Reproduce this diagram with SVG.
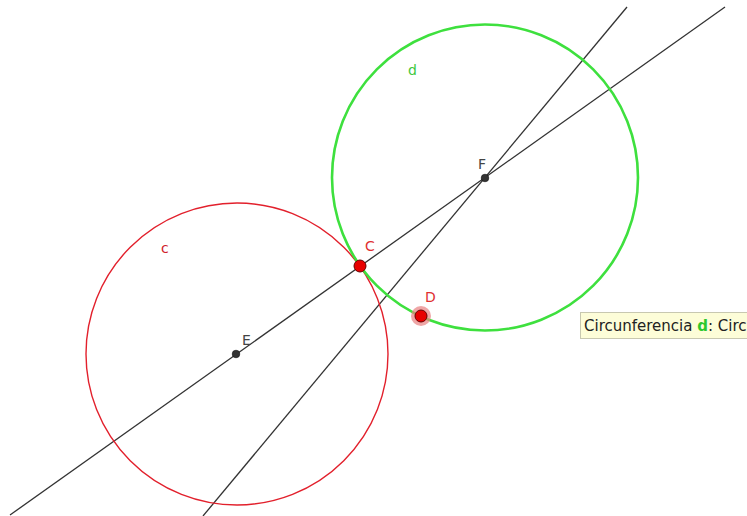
<svg xmlns="http://www.w3.org/2000/svg" width="747" height="516" viewBox="0 0 747 516">
<style>
.line{stroke:#333;stroke-width:1.3;fill:none}
.lbl{font-family:"DejaVu Sans","Liberation Sans",sans-serif;font-size:14px}
.pt{fill:#333;stroke:#111;stroke-width:0.6}
.rpt{fill:#e80000;stroke:#600;stroke-width:1}
</style>
<rect width="747" height="516" fill="#fff"/>
<g id="connectors">
<line class="line" x1="10" y1="515" x2="725" y2="7"/>
<line class="line" x1="203" y1="516" x2="627" y2="7"/>
</g>
<g id="circle-c">
<circle cx="237" cy="354" r="151" fill="none" stroke="#e2202c" stroke-width="1.4"/>
<text class="lbl" x="161" y="253" fill="#d0202a">c</text>
</g>
<g id="circle-d">
<circle cx="485" cy="177.5" r="153" fill="none" stroke="#3ee03e" stroke-width="2.6"/>
<text class="lbl" x="408" y="75" fill="#3ec83e">d</text>
</g>
<g id="point-E">
<circle class="pt" cx="236" cy="354" r="3.8"/>
<text class="lbl" x="242" y="345" fill="#444">E</text>
</g>
<g id="point-F">
<circle class="pt" cx="485" cy="178" r="3.8"/>
<text class="lbl" x="478" y="169" fill="#444">F</text>
</g>
<g id="point-C">
<circle class="rpt" cx="360" cy="266" r="6"/>
<text class="lbl" x="365" y="251" fill="#e03030">C</text>
</g>
<g id="point-D">
<circle cx="421" cy="316" r="10" fill="#e88080" opacity="0.7"/>
<circle class="rpt" cx="421" cy="316" r="6"/>
<text class="lbl" x="425" y="302" fill="#e03030">D</text>
</g>
<g id="tooltip">
<rect x="580.5" y="312.5" width="180" height="26" fill="#fdfdd8" stroke="#c8c8b0" stroke-width="1"/>
<text x="584" y="331" font-family="DejaVu Sans, sans-serif" font-size="15" fill="#222">Circunferencia <tspan fill="#2ec82e" font-weight="bold">d</tspan>: Circ</text>
</g>
</svg>
